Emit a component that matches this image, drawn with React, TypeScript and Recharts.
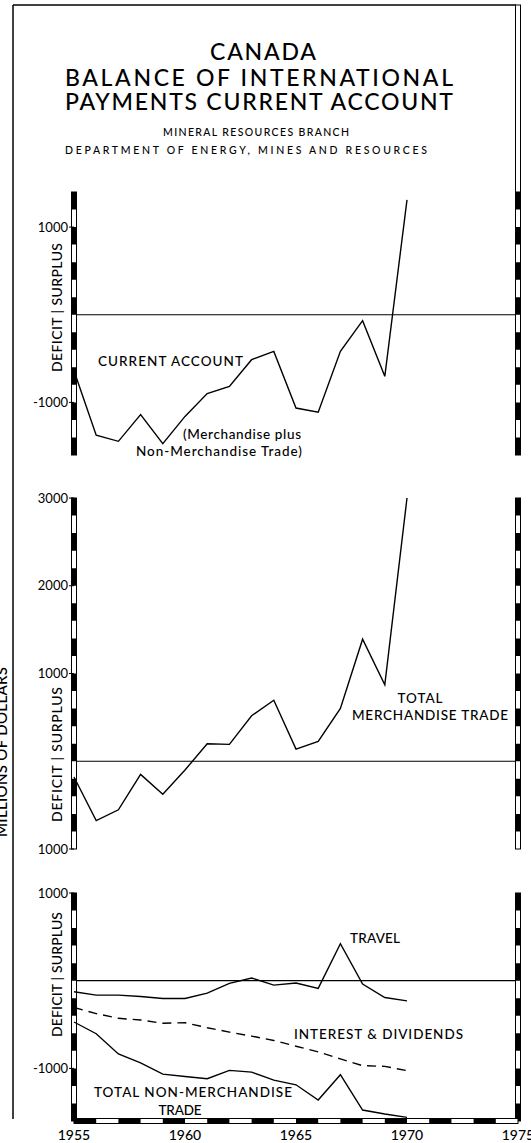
import { LineChart, Line, XAxis, YAxis, ReferenceLine } from "recharts";

const FONT = "Lato, 'Noto Sans', sans-serif";

const YEARS = [1955, 1956, 1957, 1958, 1959, 1960, 1961, 1962, 1963, 1964, 1965, 1966, 1967, 1968, 1969, 1970];

// millions of dollars
const CURRENT_ACCOUNT = [-640, -1375, -1444, -1140, -1470, -1160, -900, -817, -513, -418, -1064, -1113, -418, -68, -703, 1311];
const MERCHANDISE = [-180, -677, -553, -150, -376, -100, 199, 192, 519, 695, 139, 226, 602, 1391, 872, 3000];
const TRAVEL = [-126, -165, -165, -180, -203, -203, -142, -31, 31, -50, -27, -88, 421, -38, -192, -230];
const INTEREST = [-306, -375, -429, -448, -486, -479, -536, -586, -632, -682, -747, -812, -892, -969, -977, -1026];
const NON_MERCHANDISE = [-471, -605, -835, -938, -1065, -1092, -1118, -1023, -1042, -1134, -1187, -1360, -1072, -1475, -1520, -1559];

const X_TICKS = [1955, 1956, 1957, 1958, 1959, 1960, 1961, 1962, 1963, 1964, 1965, 1966, 1967, 1968, 1969, 1970, 1971, 1972, 1973, 1974, 1975];
const X_LABELS = [1955, 1960, 1965, 1970, 1975];

const TOP_TICKS = [-1600, -1400, -1200, -1000, -800, -600, -400, -200, 0, 200, 400, 600, 800, 1000, 1200, 1400];
const MID_TICKS = [-1000, -800, -600, -400, -200, 0, 200, 400, 600, 800, 1000, 1200, 1400, 1600, 1800, 2000, 2200, 2400, 2600, 2800, 3000];
const BOT_TICKS = [-1600, -1400, -1200, -1000, -800, -600, -400, -200, 0, 200, 400, 600, 800, 1000];

const TOP_LABELS: Record<number, string> = { 1000: "1000", [-1000]: "-1000" };
const MID_LABELS: Record<number, string> = { 3000: "3000", 2000: "2000", 1000: "1000", [-1000]: "1000" };
const BOT_LABELS: Record<number, string> = { 1000: "1000", [-1000]: "-1000" };

const rows = (series: Record<string, number[]>) =>
  YEARS.map((year, i) => {
    const row: Record<string, number> = { year };
    Object.keys(series).forEach((k) => (row[k] = series[k][i]));
    return row;
  });

// thick black/white "scale bar" axes
const vBar = (segments: number) => (props: any) => {
  const { x1, y1, y2 } = props;
  const top = Math.min(y1, y2);
  const bottom = Math.max(y1, y2);
  const seg = (bottom - top) / segments;
  return (
    <g>
      <rect x={x1 - 2.5} y={top} width={5} height={bottom - top} fill="#fff" stroke="#000" strokeWidth={1} />
      <line x1={x1} y1={top} x2={x1} y2={bottom} stroke="#000" strokeWidth={5} strokeDasharray={`${seg} ${seg}`} />
    </g>
  );
};

const hBar = (segments: number) => (props: any) => {
  const { x1, x2, y1 } = props;
  const left = Math.min(x1, x2);
  const right = Math.max(x1, x2);
  const seg = (right - left) / segments;
  return (
    <g>
      <rect x={left} y={y1 - 2.5} width={right - left} height={5} fill="#fff" stroke="#000" strokeWidth={1} />
      <line x1={left} y1={y1} x2={right} y2={y1} stroke="#000" strokeWidth={5} strokeDasharray={`${seg} ${seg}`} />
    </g>
  );
};

interface PanelProps {
  top: number;
  height: number;
  marginTop: number;
  marginBottom: number;
  ticks: number[];
  labels: Record<number, string>;
  data: Record<string, number>[];
  lines: { key: string; dash?: string }[];
  showX?: boolean;
}

function Panel({ top, height, marginTop, marginBottom, ticks, labels, data, lines, showX }: PanelProps) {
  const domain = [ticks[0], ticks[ticks.length - 1]];
  const labelTicks = Object.keys(labels).map(Number);
  return (
    <div style={{ position: "absolute", left: 0, top }}>
      <LineChart width={531} height={height} data={data} margin={{ top: marginTop, right: 13, bottom: marginBottom, left: 0 }}>
        <XAxis
          xAxisId="x"
          dataKey="year"
          type="number"
          domain={[1955, 1975]}
          ticks={X_LABELS}
          interval={0}
          hide={!showX}
          height={22}
          axisLine={false}
          tickLine={false}
          tickSize={5}
          tickMargin={4}
          tick={{ fill: "#000", fontSize: 14, fontFamily: FONT, fontWeight: 500 }}
        />
        {showX && (
          <XAxis
            xAxisId="xin"
            dataKey="year"
            type="number"
            domain={[1955, 1975]}
            ticks={X_TICKS}
            interval={0}
            mirror
            axisLine={false}
            tick={false}
            tickSize={7}
            tickLine={{ stroke: "#000", strokeWidth: 1 }}
          />
        )}
        <YAxis
          yAxisId="y"
          type="number"
          domain={domain}
          ticks={labelTicks}
          interval={0}
          width={74}
          axisLine={false}
          tickSize={5}
          tickMargin={1}
          tickLine={{ stroke: "#000", strokeWidth: 1 }}
          tickFormatter={(v: number) => labels[v] ?? ""}
          tick={{ fill: "#000", fontSize: 13, fontFamily: FONT }}
        />
        <YAxis
          yAxisId="yin"
          type="number"
          domain={domain}
          ticks={ticks}
          interval={0}
          mirror
          axisLine={false}
          tick={false}
          tickSize={7}
          tickLine={{ stroke: "#000", strokeWidth: 1 }}
        />
        <YAxis
          yAxisId="yr"
          orientation="right"
          type="number"
          domain={domain}
          ticks={ticks}
          interval={0}
          mirror
          axisLine={false}
          tick={false}
          tickSize={7}
          tickLine={{ stroke: "#000", strokeWidth: 1 }}
        />
        <ReferenceLine xAxisId="x" yAxisId="y" y={0} stroke="#000" strokeWidth={1.2} />
        <ReferenceLine xAxisId="x" yAxisId="y" x={1955} shape={vBar(ticks.length - 1)} />
        <ReferenceLine xAxisId="x" yAxisId="y" x={1975} shape={vBar(ticks.length - 1)} />
        {showX && <ReferenceLine xAxisId="x" yAxisId="y" y={domain[0]} shape={hBar(X_TICKS.length - 1)} />}
        {lines.map((l) => (
          <Line
            key={l.key}
            xAxisId="x"
            yAxisId="y"
            type="linear"
            dataKey={l.key}
            stroke="#000"
            strokeWidth={1.4}
            strokeDasharray={l.dash}
            dot={false}
            isAnimationActive={false}
          />
        ))}
      </LineChart>
    </div>
  );
}

const T = (p: { x: number; y: number; len?: number; size: number; anchor?: string; children: string; rotate?: boolean }) => (
  <text
    x={p.x}
    y={p.y}
    fontSize={p.size}
    fontFamily={FONT}
    fontWeight={500}
    fill="#000"
    textAnchor={p.anchor ?? "start"}
    textLength={p.len}
    transform={p.rotate ? `rotate(-90 ${p.x} ${p.y})` : undefined}
  >
    {p.children}
  </text>
);

export default function App() {
  return (
    <div style={{ position: "absolute", left: 0, top: 0, width: 531, height: 1143, background: "#fff", overflow: "hidden" }}>
      <Panel
        top={180}
        height={290}
        marginTop={12}
        marginBottom={15}
        ticks={TOP_TICKS}
        labels={TOP_LABELS}
        data={rows({ current: CURRENT_ACCOUNT })}
        lines={[{ key: "current" }]}
      />
      <Panel
        top={485}
        height={380}
        marginTop={13}
        marginBottom={16}
        ticks={MID_TICKS}
        labels={MID_LABELS}
        data={rows({ merch: MERCHANDISE })}
        lines={[{ key: "merch" }]}
      />
      <Panel
        top={880}
        height={263}
        marginTop={13}
        marginBottom={0}
        ticks={BOT_TICKS}
        labels={BOT_LABELS}
        data={rows({ travel: TRAVEL, interest: INTEREST, nonmerch: NON_MERCHANDISE })}
        lines={[{ key: "travel" }, { key: "interest", dash: "9 6" }, { key: "nonmerch" }]}
        showX
      />
      <svg width={531} height={1143} style={{ position: "absolute", left: 0, top: 0, pointerEvents: "none" }}>
        <line x1={13} y1={5} x2={516} y2={5} stroke="#000" strokeWidth={1.5} />
        <line x1={13} y1={5} x2={13} y2={1119} stroke="#000" strokeWidth={1.5} />
        <rect x={515.5} y={5} width={5} height={187} fill="#fff" stroke="#000" strokeWidth={1} />

        <T x={263} y={60} size={23} anchor="middle" len={106}>CANADA</T>
        <T x={65} y={86} size={23} len={388}>BALANCE OF INTERNATIONAL</T>
        <T x={65} y={110} size={23} len={388}>PAYMENTS CURRENT ACCOUNT</T>
        <T x={163} y={136} size={10.5} len={186}>MINERAL RESOURCES BRANCH</T>
        <T x={65} y={154} size={10.5} len={362}>DEPARTMENT OF ENERGY, MINES AND RESOURCES</T>

        <T x={7} y={837} size={15} len={170} rotate>MILLIONS OF DOLLARS</T>
        <T x={62} y={372} size={14} len={129} rotate>DEFICIT | SURPLUS</T>
        <T x={62} y={822} size={14} len={135} rotate>DEFICIT | SURPLUS</T>
        <T x={62} y={1037} size={14} len={125} rotate>DEFICIT | SURPLUS</T>

        <T x={98} y={366} size={13.5} len={145}>CURRENT ACCOUNT</T>
        <T x={183} y={439} size={13.5} len={118}>(Merchandise plus</T>
        <T x={136} y={456} size={13.5} len={166}>Non-Merchandise Trade)</T>

        <T x={420} y={703} size={13.5} anchor="middle" len={45}>TOTAL</T>
        <T x={352} y={720} size={13.5} len={156}>MERCHANDISE TRADE</T>

        <T x={350} y={943} size={13.5} len={50}>TRAVEL</T>
        <T x={294} y={1039} size={13.5} len={169}>INTEREST &amp; DIVIDENDS</T>
        <T x={94} y={1097} size={13.5} len={198}>TOTAL NON-MERCHANDISE</T>
        <T x={180} y={1115} size={13.5} anchor="middle" len={43}>TRADE</T>
      </svg>
    </div>
  );
}
